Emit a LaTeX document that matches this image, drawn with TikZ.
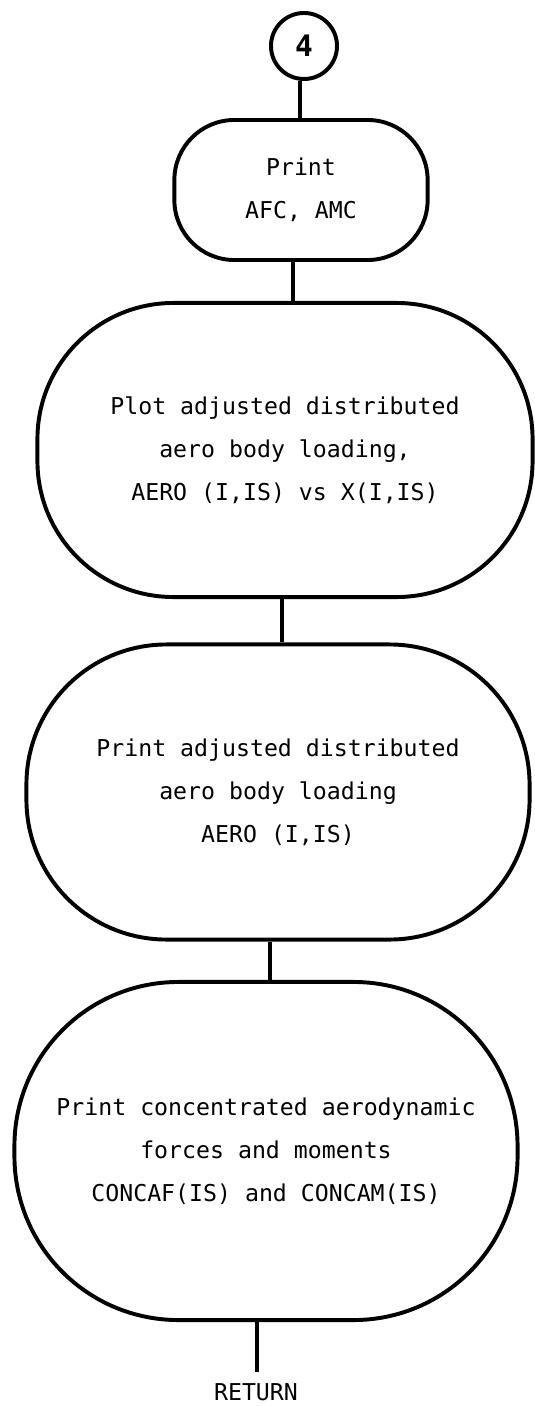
\documentclass[tikz,border=0pt]{standalone}
\usepackage{xcolor}
\usepackage{fontspec}
\setmonofont{DejaVu Sans Mono}
\usepackage{tikz}

\begin{document}
\begin{tikzpicture}[x=0.025cm,y=-0.025cm,
  every node/.style={font=\ttfamily\fontsize{16.5}{30.5}\selectfont, align=center},
  onpage/.style={draw, circle, line width=2.8pt, minimum size=1.65cm, inner sep=0pt},
  procbox/.style={draw, rectangle, line width=2.8pt, inner sep=0pt},
  link/.style={line width=2.5pt},
  endlabel/.style={inner sep=0pt, outer sep=8pt}]
\useasboundingbox (0,0) rectangle (534,1406);
\node[onpage, font=\ttfamily\bfseries\fontsize{21}{24}\selectfont] (c4) at (304,46) {4};
\node[procbox, minimum width=6.33cm, minimum height=3.5cm, rounded corners=1.5cm] (n1) at (301,190) {Print\\AFC, AMC};
\node[procbox, minimum width=12.375cm, minimum height=7.35cm, rounded corners=3.4cm] (n2) at (285,450)
  {Plot adjusted distributed\\aero body loading,\\AERO (I,IS) vs X(I,IS)};
\node[procbox, minimum width=12.575cm, minimum height=7.375cm, rounded corners=3.5cm] (n3) at (278,792)
  {Print adjusted distributed\\aero body loading\\AERO (I,IS)};
\node[procbox, minimum width=12.575cm, minimum height=8.45cm, rounded corners=4.1cm] (n4) at (266,1151)
  {Print concentrated aerodynamic\\forces and moments\\CONCAF(IS) and CONCAM(IS)};
\node[endlabel] (ret) at (256,1392) {RETURN};
\draw[link] ([xshift=-0.1cm]c4.south) -- ([xshift=-0.1cm]c4.south |- n1.north);
\draw[link] ([xshift=-0.2cm]n1.south) -- ([xshift=-0.2cm]n1.south |- n2.north);
\draw[link] ([xshift=-0.08cm]n2.south) -- ([xshift=-0.08cm]n2.south |- n3.north);
\draw[link] ([xshift=-0.2cm]n3.south) -- ([xshift=-0.2cm]n3.south |- n4.north);
\draw[link] ([xshift=-0.22cm]n4.south) -- ([xshift=-0.22cm]n4.south |- ret.north);
\end{tikzpicture}
\end{document}
